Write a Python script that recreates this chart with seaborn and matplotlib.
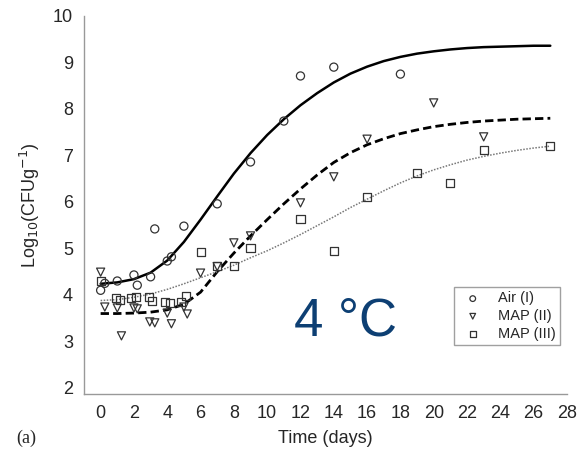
import numpy as np
import pandas as pd
import matplotlib
matplotlib.use("Agg")
import matplotlib.pyplot as plt
import seaborn as sns

air_days = [0, 0.25, 1, 2, 2.2, 3, 3.25, 4, 4.25, 5, 7, 9, 11, 12, 14, 18]
air_logc = [4.10, 4.25, 4.30, 4.43, 4.21, 4.39, 5.42, 4.73, 4.82, 5.48, 5.96, 6.86, 7.74, 8.71, 8.90, 8.75]

map2_days = [0, 0.25, 1, 1.25, 2, 2.2, 2.95, 3.25, 4, 4.25, 5, 5.2, 6, 7, 8, 9, 12, 14, 16, 20, 23]
map2_logc = [4.49, 3.74, 3.72, 3.12, 3.72, 3.70, 3.42, 3.40, 3.61, 3.38, 3.74, 3.59, 4.47, 4.61,
             5.12, 5.27, 5.98, 6.54, 7.35, 8.13, 7.40]

map3_days = [0, 0.9, 1.15, 1.85, 2.15, 2.9, 3.1, 3.85, 4.15, 4.85, 5.15, 6, 7, 8, 9, 12, 14, 16, 19, 21, 23, 27]
map3_logc = [4.30, 3.94, 3.89, 3.94, 3.96, 3.96, 3.87, 3.85, 3.83, 3.85, 3.98, 4.92, 4.62, 4.62,
             5.01, 5.63, 4.95, 6.11, 6.62, 6.41, 7.12, 7.20]

# fitted growth curves, read at each day
fit_days = list(range(0, 28))
air_fit = [4.24, 4.27, 4.34, 4.48, 4.74, 5.14, 5.62, 6.12, 6.61, 7.05, 7.44, 7.78, 8.08, 8.34,
           8.57, 8.76, 8.91, 9.03, 9.12, 9.19, 9.24, 9.28, 9.31, 9.33, 9.34, 9.35, 9.36, 9.36]
map2_fit = [3.60, 3.60, 3.61, 3.63, 3.68, 3.80, 4.06, 4.50, 4.90, 5.27, 5.62, 5.96, 6.28, 6.58,
            6.85, 7.06, 7.23, 7.36, 7.47, 7.55, 7.62, 7.67, 7.71, 7.74, 7.76, 7.78, 7.79, 7.80]
map3_fit = [3.88, 3.90, 3.95, 4.02, 4.12, 4.24, 4.37, 4.50, 4.64, 4.80, 4.95, 5.12, 5.30, 5.49,
            5.68, 5.88, 6.06, 6.24, 6.41, 6.56, 6.69, 6.80, 6.90, 6.98, 7.05, 7.11, 7.16, 7.20]

labels = ["Air (I)", "MAP (II)", "MAP (III)"]
markers = ["o", "v", "s"]

sns.set_style("white")
plt.rcParams["font.family"] = ["Liberation Sans", "DejaVu Sans"]

fig = plt.figure(figsize=(5.84, 4.54), dpi=100)
ax = fig.add_axes([0.1438, 0.1322, 0.827, 0.8326])

sns.lineplot(x=fit_days, y=air_fit, ax=ax, color="black", lw=1.8)
sns.lineplot(x=fit_days, y=map2_fit, ax=ax, color="black", lw=2.0)
ax.lines[-1].set_dashes((3, 1.5))
sns.lineplot(x=fit_days, y=map3_fit, ax=ax, color="#777777", lw=1.1)
ax.lines[-1].set_linestyle((0, (1, 1)))

obs = [(air_days, air_logc), (map2_days, map2_logc), (map3_days, map3_logc)]
for (d, v), lab, m in zip(obs, labels, markers):
    sns.scatterplot(x=d, y=v, ax=ax, marker=m, s=34, facecolor="none",
                    edgecolor="#333333", linewidth=0.9, label=lab, zorder=3)

ax.set_xlim(-1, 28)
ax.set_ylim(1.87, 10.0)
ax.set_xticks(range(0, 29, 2))
ax.set_yticks(range(2, 11))
ax.tick_params(direction="in", length=4, color="#999999", labelsize=13, pad=8)
for s in ["top", "right"]:
    ax.spines[s].set_visible(False)
for s in ["left", "bottom"]:
    ax.spines[s].set_color("#999999")
    ax.spines[s].set_linewidth(1.0)

ax.set_xlabel("Time (days)", fontsize=13, labelpad=6)
ax.set_ylabel("Log$_{10}$(CFUg$^{-1}$)", fontsize=13, labelpad=8)

leg = ax.legend(loc="lower right", bbox_to_anchor=(1.0, 0.11), fontsize=10.5,
                frameon=True, fancybox=False, edgecolor="#888888",
                handletextpad=0.7, markerscale=0.7, borderpad=0.3, labelspacing=0.25)
leg.get_frame().set_linewidth(1.0)

ax.text(14.7, 3.42, "4 °C", fontsize=38, color="#0d3f73", ha="center", va="center")
fig.text(0.028, 0.025, "(a)", fontsize=13, family="Liberation Serif")

fig.savefig("out.png", dpi=100)
